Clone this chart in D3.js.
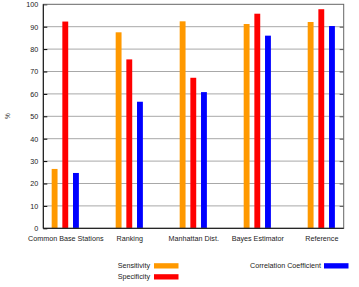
<!DOCTYPE html>
<html lang="en">
<head>
<meta charset="UTF-8">
<title>Sensitivity / Specificity</title>
<script src="https://d3js.org/d3.v7.min.js"></script>
<style>
html, body { margin: 0; padding: 0; background: white; }
body { font-family: 'Liberation Sans', Arial, sans-serif; }
.axis text { font-size: 7.2px; fill: #222; }
.grid line { stroke: #a8a8a8; stroke-width: 1px; }
.legend text { font-size: 7.2px; fill: #222; }
</style>
</head>
<body>
<div id="chart"></div>
<script>

// data
const categories = ["Common Base Stations", "Ranking", "Manhattan Dist.", "Bayes Estimator", "Reference"];
const sensitivity = [26.5, 87.5, 92.4, 91.2, 92.1];
const specificity = [92.3, 75.4, 67.2, 95.8, 97.8];
const correlation = [24.7, 56.5, 60.8, 86.0, 90.3];
const yTicks = [0, 10, 20, 30, 40, 50, 60, 70, 80, 90, 100];

const series = [
  {name: "Sensitivity", values: sensitivity, color: "#ff9900", offset: -1},
  {name: "Specificity", values: specificity, color: "#ff0000", offset: 0},
  {name: "Correlation Coefficient", values: correlation, color: "#0000ff", offset: 1}
];

// size
const totalWidth = 359, totalHeight = 287;
const margin = {top: 4.3, right: 15.3, bottom: 58.7, left: 43.3};
const width = totalWidth - margin.left - margin.right;
const height = totalHeight - margin.top - margin.bottom;

const svg = d3.select("#chart").append("svg")
  .attr("width", totalWidth)
  .attr("height", totalHeight);

const g = svg.append("g")
  .attr("transform", `translate(${margin.left},${margin.top})`);

// cluster units: each cluster 6 units wide (3 bars + gap of 3)
const x = d3.scaleLinear()
  .domain([-2.06, 26.1])
  .range([0, width]);

const y = d3.scaleLinear()
  .domain([0, 100])
  .range([height, 0]);

const unit = x(1) - x(0);
const barW = unit * 0.55;

// grid
g.append("g").attr("class", "grid")
  .selectAll("line")
  .data(yTicks.slice(1, -1))
  .join("line")
  .attr("x1", 0).attr("x2", width)
  .attr("y1", d => y(d)).attr("y2", d => y(d));

// bars
series.forEach(s => {
  g.selectAll(null)
    .data(s.values)
    .join("rect")
    .attr("x", (d, i) => x(i * 6 + s.offset) - barW / 2)
    .attr("y", d => y(d))
    .attr("width", barW)
    .attr("height", d => y(0) - y(d))
    .attr("fill", s.color);
});

// axes
const yAxis = g.append("g").attr("class", "axis")
  .call(d3.axisLeft(y).tickValues(yTicks).tickSize(-4).tickPadding(5));
yAxis.select(".domain").remove();

const yAxisR = g.append("g").attr("class", "axis")
  .attr("transform", `translate(${width},0)`)
  .call(d3.axisRight(y).tickValues(yTicks.slice(1, -1)).tickSize(-4).tickFormat(""));
yAxisR.select(".domain").remove();
yAxisR.selectAll("line").attr("stroke", "#555");

const xAxis = g.append("g").attr("class", "axis")
  .attr("transform", `translate(0,${height})`)
  .call(d3.axisBottom(x).tickValues(categories.map((c, i) => i * 6))
    .tickFormat((d, i) => categories[i]).tickSize(0).tickPadding(8));
xAxis.select(".domain").remove();

// frame
g.append("rect")
  .attr("width", width).attr("height", height)
  .attr("fill", "none").attr("stroke", "#666").attr("stroke-width", 1);
g.append("line").attr("x1", 0).attr("x2", 0).attr("y1", 0).attr("y2", height)
  .attr("stroke", "#111");
g.append("line").attr("x1", 0).attr("x2", width).attr("y1", height).attr("y2", height)
  .attr("stroke", "#111");

// y label
svg.append("text")
  .attr("transform", "translate(10,116) rotate(-90)")
  .attr("text-anchor", "middle")
  .attr("font-size", "6.5px")
  .attr("fill", "#222")
  .text("%");

// legend
const legendPos = [
  {x: 150, y: 265.7, sx: 154},
  {x: 150, y: 276.7, sx: 154},
  {x: 321, y: 265.7, sx: 324}
];
const legend = svg.append("g").attr("class", "legend");
series.forEach((s, i) => {
  const p = legendPos[i];
  legend.append("text")
    .attr("x", p.x).attr("y", p.y)
    .attr("dy", "0.35em")
    .attr("text-anchor", "end")
    .text(s.name);
  legend.append("rect")
    .attr("x", p.sx).attr("y", p.y - 2.5)
    .attr("width", 24.5).attr("height", 5.3)
    .attr("fill", s.color);
});

</script>
</body>
</html>
